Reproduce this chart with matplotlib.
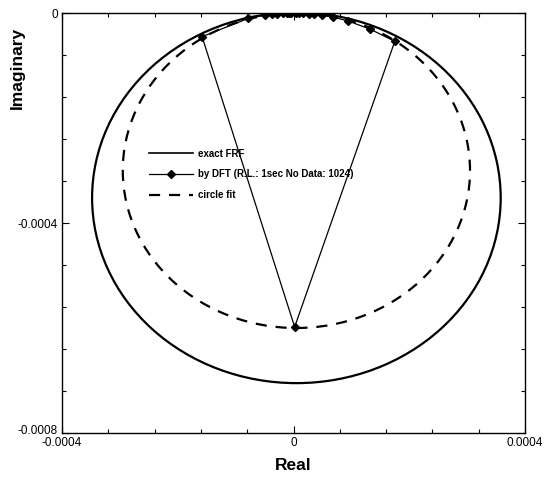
import matplotlib
matplotlib.use("Agg")
import matplotlib.pyplot as plt
from matplotlib.lines import Line2D
from matplotlib.patches import Circle
from matplotlib.ticker import MultipleLocator
from matplotlib.transforms import ScaledTranslation

plt.rcParams["font.family"] = ["Liberation Sans", "DejaVu Sans"]

# exact FRF and circle fit, read as circles (centre x, centre y, radius)
exact_centre = (0.000005, -0.000352)
exact_radius = 0.000353
fit_centre = (0.000005, -0.000300)
fit_radius = 0.000300

# DFT points (1 s record, 1024 samples), in order along the record
dft_real = [-0.0000035, -0.000007, -0.000012, -0.000019, -0.000028, -0.000038,
            -0.000050, -0.000078, -0.000158,
            0.000002,
            0.000175, 0.000133, 0.000095, 0.000069, 0.000050, 0.000036,
            0.000026, 0.000017, 0.000010, 0.000005]
dft_imag = [0.0, -0.0000001, -0.0000002, -0.0000006, -0.0000013, -0.0000024,
            -0.0000042, -0.0000103, -0.0000450,
            -0.000598,
            -0.0000540, -0.0000311, -0.0000154, -0.0000080, -0.0000042, -0.0000022,
            -0.0000011, -0.0000005, -0.0000002, 0.0]

legend_labels = ["exact FRF", "by DFT (R.L.: 1sec No Data: 1024)", "circle fit"]

fig = plt.figure(figsize=(5.49, 4.84), dpi=100)
ax = fig.add_axes([62 / 549, 1 - 433 / 484, 463 / 549, 420 / 484])

ax.add_patch(Circle(exact_centre, exact_radius, fill=False, color="black", lw=1.6))
ax.add_patch(Circle(fit_centre, fit_radius, fill=False, color="black", lw=1.6,
                    linestyle=(0, (5, 4))))
ax.plot(dft_real, dft_imag, color="black", lw=0.9, marker="D", ms=4.5,
        mfc="black", mec="black")

ax.set_xlim(-0.0004, 0.0004)
ax.set_ylim(-0.0008, 0.0)
ax.set_xticks([-0.0004, 0, 0.0004])
ax.set_xticklabels(["-0.0004", "0", "0.0004"])
ax.set_yticks([-0.0008, -0.0004, 0])
ax.set_yticklabels(["-0.0008", "-0.0004", "0"])
ax.xaxis.set_minor_locator(MultipleLocator(0.00008))
ax.yaxis.set_minor_locator(MultipleLocator(0.00008))
ax.tick_params(which="both", direction="in", top=True, right=True,
               labelsize=8.5, width=0.8, pad=3)
ax.tick_params(which="major", length=5)
ax.tick_params(which="minor", length=3)
for s in ax.spines.values():
    s.set_linewidth(1.0)

# lift the bottom y label a little so it sits clear of the x label below it
lbl = ax.get_yticklabels()[0]
lbl.set_transform(lbl.get_transform() + ScaledTranslation(0, 4 / 100, fig.dpi_scale_trans))

ax.set_xlabel("Real", fontsize=12.5, fontweight="bold")
ax.xaxis.set_label_coords(0.5, -0.06)
ax.set_ylabel("Imaginary", fontsize=12.5, fontweight="bold")
ax.yaxis.set_label_coords(-0.08, 0.87)

handles = [
    Line2D([], [], color="black", lw=1.2),
    Line2D([], [], color="black", lw=0.9, marker="D", ms=4.5),
    Line2D([], [], color="black", lw=1.6, linestyle=(0, (5, 4))),
]
ax.legend(handles, legend_labels, loc="upper left",
          bbox_to_anchor=((140 - 62) / 463, (433 - 140) / 420),
          frameon=False, prop={"size": 7, "weight": "bold"},
          handlelength=4.5, handletextpad=0.6, labelspacing=1.1)

fig.savefig("out.png", dpi=100)
